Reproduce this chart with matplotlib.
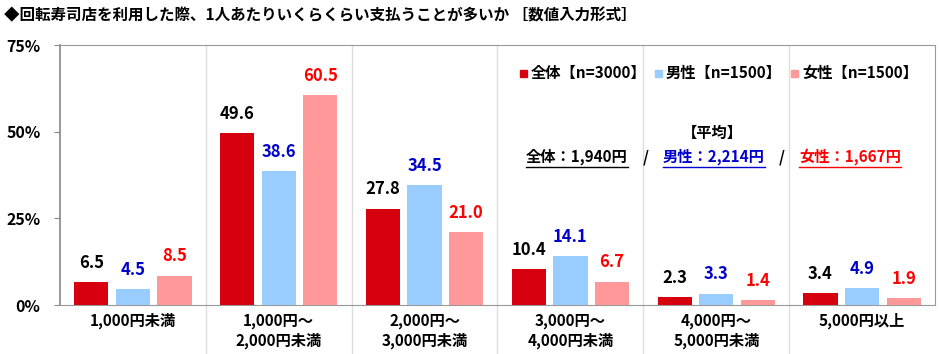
import matplotlib
matplotlib.use("Agg")
import matplotlib.pyplot as plt
import numpy as np

plt.rcParams['font.family'] = ['Noto Sans CJK JP', 'DejaVu Sans']

categories = ["1,000円未満", "1,000円～\n2,000円未満", "2,000円～\n3,000円未満",
              "3,000円～\n4,000円未満", "4,000円～\n5,000円未満", "5,000円以上"]
total = [6.5, 49.6, 27.8, 10.4, 2.3, 3.4]
male = [4.5, 38.6, 34.5, 14.1, 3.3, 4.9]
female = [8.5, 60.5, 21.0, 6.7, 1.4, 1.9]
series_names = ["全体【n=3000】", "男性【n=1500】", "女性【n=1500】"]
yticks = [0, 25, 50, 75]
ytick_labels = ["0%", "25%", "50%", "75%"]
title = "◆回転寿司店を利用した際、1人あたりいくらくらい支払うことが多いか ［数値入力形式］"

bar_colors = ["#D7000F", "#99CCFF", "#FF9999"]
label_colors = ["#000000", "#0000CC", "#FF0000"]

fig = plt.figure(figsize=(9.4, 3.54), dpi=100)
ax = fig.add_axes([60/940, 1-305/354, 875/940, 260/354])

x = np.arange(len(categories))
w = 0.235
step = 0.285
for i, (vals, c, lc) in enumerate(zip([total, male, female], bar_colors, label_colors)):
    pos = x + (i-1)*step
    ax.bar(pos, vals, width=w, color=c, zorder=3)
    for p, v in zip(pos, vals):
        ax.text(p, v + 3.0, f"{v:.1f}", ha="center", va="bottom", fontsize=12,
                fontweight="bold", color=lc)

ax.set_xlim(-0.5, len(categories)-0.5)
ax.set_ylim(0, 75)
ax.set_yticks(yticks)
ax.set_yticklabels(ytick_labels, fontsize=11.5, fontweight="bold")
ax.tick_params(axis='y', length=4, color="#888888", pad=10)
ax.set_xticks([])
for s in ["left", "top", "right", "bottom"]:
    ax.spines[s].set_color("#999999")
ax.spines["left"].set_color("#888888")
ax.spines["left"].set_linewidth(1.2)

# category separators (extend below the axis)
for k in range(1, len(categories)):
    ax.plot([k-0.5, k-0.5], [0, 75], color="#DDDDDD", lw=1, zorder=1)
    ax.plot([k-0.5, k-0.5], [0, -17], color="#DDDDDD", lw=1, zorder=1, clip_on=False)

for k, cat in enumerate(categories):
    ax.text(k, -2.3, cat, ha="center", va="top", fontsize=11, fontweight="bold",
            linespacing=1.25)

fig.text(4/940, 1-15/354, title, ha="left", va="center", fontsize=11.2, fontweight="bold")

# legend
leg_x = [520, 655, 791]
for lx, name, c in zip(leg_x, series_names, bar_colors):
    fig.patches.append(plt.Rectangle((lx/940, 1-77/354), 7/940, 7/354,
                                     transform=fig.transFigure, color=c))
    fig.text((lx+11)/940, 1-73/354, name, ha="left", va="center", fontsize=11,
             fontweight="bold")

fig.text(712/940, 1-133/354, "【平均】", ha="center", va="center", fontsize=11, fontweight="bold")
avg_parts = [("全体：1,940円", 577, "#000000"), ("/", 646, "#000000"),
             ("男性：2,214円", 714, "#0000CC"), ("/", 782, "#000000"),
             ("女性：1,667円", 850, "#FF0000")]
for txt, cx, c in avg_parts:
    fig.text(cx/940, 1-157/354, txt, ha="center", va="center", fontsize=11,
             fontweight="bold", color=c)
    if txt != "/":
        half = 51
        fig.add_artist(plt.Line2D([(cx-half)/940, (cx+half)/940], [1-167/354, 1-167/354],
                                  color=c, lw=1, transform=fig.transFigure))

fig.savefig("out.png", dpi=100)
